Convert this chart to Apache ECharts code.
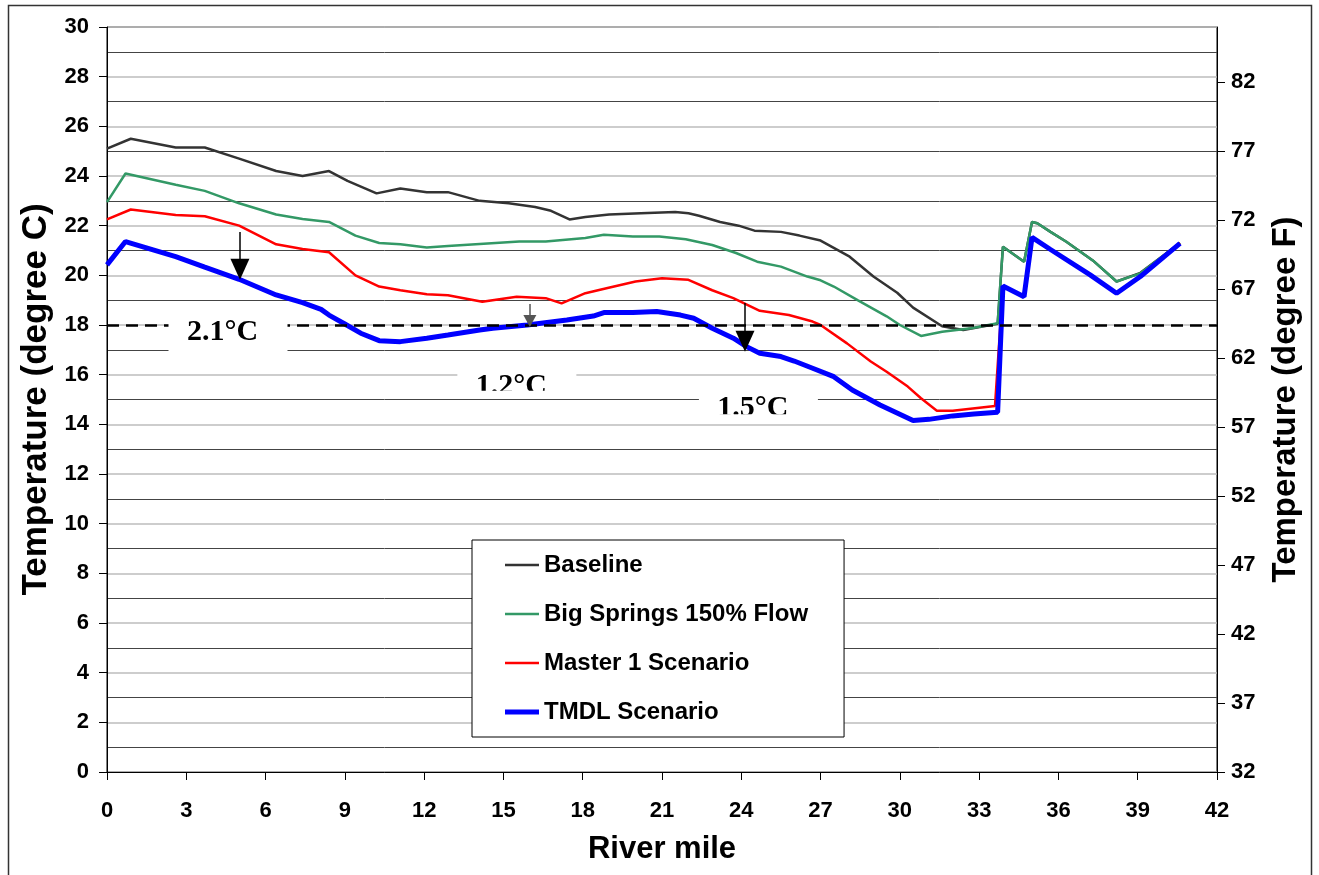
<!DOCTYPE html>
<html><head><meta charset="utf-8">
<script src="https://cdn.jsdelivr.net/npm/echarts@6/dist/echarts.min.js"></script>
<style>html,body{margin:0;padding:0;background:#fff}#c{width:1319px;height:875px}</style>
</head><body><div id="c"></div>
<script>
// ---- data (river mile, temperature degC) ----
const baselineMiles = [0,0.9,2.6,3.7,5.0,6.4,7.4,8.4,9.1,10.2,11.1,12.1,12.9,14.1,15.2,16.2,16.8,17.5,18.1,19.0,20.2,21.5,22.0,22.4,23.2,23.9,24.5,25.5,26.2,27.0,28.1,29.0,29.9,30.5,31.6,32.4,33.7,33.9,34.7,35.0,35.2,35.7,36.3,37.3,38.2,39.1,40.6];
const baselineTemps = [25.1,25.5,25.15,25.15,24.7,24.2,24.0,24.2,23.8,23.3,23.5,23.35,23.35,23.0,22.9,22.75,22.6,22.25,22.35,22.45,22.5,22.55,22.5,22.4,22.15,22.0,21.8,21.75,21.6,21.4,20.75,19.95,19.3,18.7,17.95,17.8,18.05,21.15,20.55,22.15,22.1,21.75,21.35,20.6,19.75,20.1,21.3];

const springsMiles = [0,0.7,2.6,3.7,5.0,6.4,7.4,8.4,9.4,10.3,11.1,12.1,12.9,14.1,15.6,16.6,18.1,18.8,19.9,20.9,21.9,22.9,23.8,24.6,25.5,26.5,27.0,27.5,28.4,29.5,30.0,30.8,31.6,32.7,33.7,33.9,34.7,35.0,35.2,35.7,36.3,37.3,38.2,39.1,40.6];
const springsTemps = [22.95,24.1,23.65,23.4,22.9,22.45,22.27,22.15,21.6,21.3,21.25,21.12,21.18,21.26,21.36,21.36,21.5,21.63,21.56,21.56,21.45,21.22,20.9,20.55,20.35,19.95,19.8,19.55,19.0,18.35,18.0,17.56,17.73,17.87,18.07,21.15,20.55,22.15,22.1,21.75,21.35,20.6,19.75,20.08,21.3];

const masterMiles = [0,0.9,2.6,3.7,5.0,6.4,7.4,8.4,9.4,10.3,11.1,12.1,12.9,14.2,15.5,16.6,17.2,18.1,18.9,20.0,21.0,22.0,22.9,23.7,24.7,25.8,26.7,27.0,28.0,28.9,29.5,30.3,30.8,31.4,32.0,33.6,33.9,34.7,35.0,35.7,37.2,38.2,39.1,40.6];
const masterTemps = [22.25,22.65,22.43,22.38,22.0,21.25,21.06,20.93,20.0,19.55,19.4,19.24,19.2,18.94,19.14,19.08,18.87,19.28,19.48,19.75,19.88,19.82,19.4,19.08,18.57,18.4,18.14,18.0,17.26,16.53,16.12,15.52,15.05,14.55,14.55,14.74,19.57,19.14,21.53,21.04,20.02,19.28,19.95,21.29];

const tmdlMiles = [0,0.7,2.6,3.7,5.0,6.4,7.4,8.1,8.4,9.0,9.6,10.3,11.1,12.1,12.9,14.1,14.6,15.9,17.4,18.4,18.8,19.9,20.8,21.7,22.2,22.9,23.7,24.2,24.7,25.5,26.0,26.7,27.5,28.2,29.25,30.5,31.1,32.0,32.8,33.7,33.9,34.7,35.0,35.7,37.2,38.2,39.1,40.6];
const tmdlTemps = [20.42,21.36,20.75,20.33,19.84,19.21,18.9,18.63,18.4,18.04,17.67,17.37,17.33,17.47,17.6,17.8,17.87,18.0,18.2,18.36,18.5,18.5,18.54,18.4,18.27,17.87,17.47,17.13,16.86,16.73,16.55,16.26,15.92,15.38,14.78,14.15,14.2,14.34,14.42,14.49,19.57,19.14,21.53,21.04,20.02,19.28,19.95,21.29];

const seriesNames = ['Baseline','Big Springs 150% Flow','Master 1 Scenario','TMDL Scenario'];
const standardC = 18;
// annotation arrows: [mile, fromTemp, toTemp]
const arrowMiles = [5.03, 16.0, 24.14];
const arrowFrom = [21.75, 18.85, 18.89];
const arrowTo = [20.25, 18.16, 17.35];
const annoTexts = ['2.1°C','1.2°C','1.5°C'];
const annoMiles = [4.37, 15.3, 24.44];
const annoTempsC = [17.7, 15.55, 14.65];

const pair = (xs, ys) => xs.map((x, i) => [x, ys[i]]);
const FONT = "'Liberation Sans', Arial, sans-serif";
const colors = ['#333333', '#339966', '#ff0000', '#0000ff'];
const widths = [2.5, 2.5, 2.5, 5];

const chart = echarts.init(document.getElementById('c'), null, {renderer: 'canvas'});
const option = {
  animation: false,
  backgroundColor: '#fff',
  grid: {left: 107, right: 102, top: 27, bottom: 103, show: true, borderColor: '#000', borderWidth: 1, backgroundColor: 'transparent'},
  legend: {
    orient: 'vertical', left: 472, top: 540,
    itemWidth: 34, itemHeight: 14, itemGap: 25,
    padding: [13, 36, 13, 33],
    borderColor: '#000', borderWidth: 1, backgroundColor: '#fff',
    textStyle: {fontFamily: FONT, fontSize: 24, fontWeight: 'bold', color: '#000'},
    data: seriesNames.map((n, i) => ({name: n, icon: 'path://M0 0H34V' + widths[i] + 'H0Z'}))
  },
  xAxis: {
    type: 'value', min: 0, max: 42, interval: 3,
    name: 'River mile', nameLocation: 'middle', nameGap: 62,
    nameTextStyle: {fontFamily: FONT, fontSize: 31, fontWeight: 'bold', color: '#000'},
    axisLine: {lineStyle: {color: '#000', width: 1}},
    axisTick: {show: true, length: 8, lineStyle: {color: '#000'}},
    axisLabel: {fontFamily: FONT, fontSize: 22, fontWeight: 'bold', color: '#000', margin: 28},
    splitLine: {show: false}
  },
  yAxis: [{
    type: 'value', min: 0, max: 30, interval: 2, position: 'left',
    name: 'Temperature (degree C)', nameLocation: 'middle', nameGap: 52, nameRotate: 90,
    nameTextStyle: {fontFamily: FONT, fontSize: 35, fontWeight: 'bold', color: '#000'},
    axisLine: {show: true, lineStyle: {color: '#000', width: 1}},
    axisTick: {show: true, length: 8, lineStyle: {color: '#000'}},
    axisLabel: {fontFamily: FONT, fontSize: 22, fontWeight: 'bold', color: '#000', margin: 18},
    splitLine: {show: true, lineStyle: {color: '#bdbdbd', width: 1.5}},
    minorTick: {show: false, splitNumber: 2},
    minorSplitLine: {show: true, lineStyle: {color: '#444', width: 1}}
  }, {
    type: 'value', min: 0, max: 54, interval: 5, position: 'right',
    name: 'Temperature (degree F)', nameLocation: 'middle', nameGap: 52, nameRotate: 90,
    nameTextStyle: {fontFamily: FONT, fontSize: 33, fontWeight: 'bold', color: '#000'},
    axisLine: {show: true, lineStyle: {color: '#000', width: 1}},
    axisTick: {show: true, length: 8, lineStyle: {color: '#000'}},
    axisLabel: {fontFamily: FONT, fontSize: 22, fontWeight: 'bold', color: '#000', margin: 14,
      showMaxLabel: false, formatter: v => String(v + 32)},
    splitLine: {show: false}
  }],
  series: [
    {name: seriesNames[0], type: 'line', data: pair(baselineMiles, baselineTemps), symbol: 'none',
      lineStyle: {color: colors[0], width: widths[0]}, itemStyle: {color: colors[0]},
      markLine: {silent: true, symbol: 'none', label: {show: false},
        lineStyle: {color: '#000', width: 2.5, type: [12, 7]},
        data: [{yAxis: standardC}]}},
    {name: seriesNames[1], type: 'line', data: pair(springsMiles, springsTemps), symbol: 'none',
      lineStyle: {color: colors[1], width: widths[1]}, itemStyle: {color: colors[1]}},
    {name: seriesNames[2], type: 'line', data: pair(masterMiles, masterTemps), symbol: 'none',
      lineStyle: {color: colors[2], width: widths[2]}, itemStyle: {color: colors[2]}},
    {name: seriesNames[3], type: 'line', data: pair(tmdlMiles, tmdlTemps), symbol: 'none',
      lineStyle: {color: colors[3], width: widths[3]}, itemStyle: {color: colors[3]},
      markLine: {silent: true, label: {show: false},
        data: arrowMiles.map((m, i) => [
          {coord: [m, arrowFrom[i]], symbol: 'none', lineStyle: {color: i === 1 ? '#555' : '#000', width: 1.5, type: 'solid'}},
          {coord: [m, arrowTo[i]], symbol: 'triangle', symbolSize: i === 1 ? [13, 12] : [19, 21]}
        ])}}
  ]
};
chart.setOption(option);

// annotation boxes positioned in data coordinates; the lower two are cut off at the bottom like the original text boxes
function placeAnnotations() {
  const els = [];
  els.push({type: 'rect', shape: {x: 8.5, y: 5.5, width: 1303, height: 885}, style: {fill: 'none', stroke: '#333', lineWidth: 1.5}, z: 100, silent: true});
  const boxTop = [-20, -27, -20];
  const boxBottom = [20, 12, 12];
  const clipBelow = [null, 5, 6];
  annoTexts.forEach((t, i) => {
    const p = chart.convertToPixel({xAxisIndex: 0, yAxisIndex: 0}, [annoMiles[i], annoTempsC[i]]);
    els.push({type: 'rect', shape: {x: p[0] - 54, y: p[1] + boxTop[i], width: 119, height: boxBottom[i] - boxTop[i]}, style: {fill: '#fff'}, z: 50, silent: true});
    els.push({type: 'text', x: p[0], y: p[1], style: {text: t, fill: '#000', font: "bold 30px 'Liberation Serif', 'Times New Roman', serif", align: 'center', verticalAlign: 'middle'}, z: 51, silent: true});
    if (clipBelow[i] != null) {
      els.push({type: 'rect', shape: {x: p[0] - 54, y: p[1] + clipBelow[i], width: 119, height: boxBottom[i] - clipBelow[i]}, style: {fill: '#fff'}, z: 52, silent: true});
    }
  });
  chart.setOption({graphic: {elements: els}});
}
placeAnnotations();
</script></body></html>
